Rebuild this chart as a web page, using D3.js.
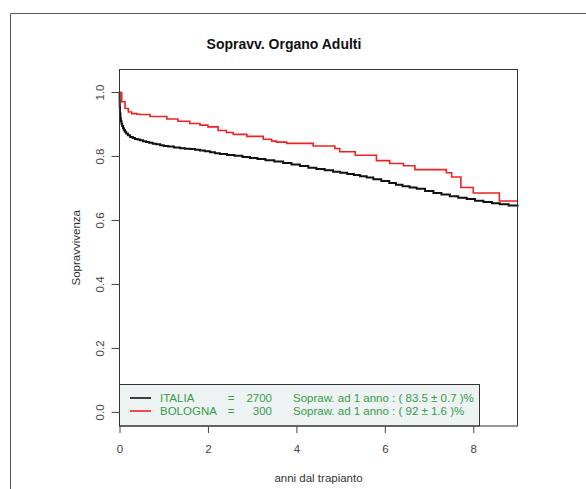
<!DOCTYPE html>
<html>
<head>
<meta charset="utf-8">
<script src="https://cdn.jsdelivr.net/npm/d3@7"></script>
<style>
  html, body { margin: 0; padding: 0; background: #fff; }
  svg { display: block; font-family: "Liberation Sans", Arial, sans-serif; }
</style>
</head>
<body>
<svg id="chart" width="586" height="489"></svg>
<script>
// Kaplan-Meier survival estimates: [years since transplant, survival]
const italia = [
  [0, 1.0], [0.003, 0.975], [0.006, 0.955], [0.01, 0.935], [0.02, 0.92],
  [0.03, 0.91], [0.045, 0.902], [0.06, 0.895], [0.08, 0.888], [0.1, 0.882],
  [0.125, 0.877], [0.15, 0.872], [0.19, 0.866], [0.24, 0.861], [0.3, 0.858],
  [0.35, 0.855], [0.41, 0.853], [0.46, 0.851], [0.53, 0.848], [0.6, 0.845],
  [0.67, 0.843], [0.75, 0.840], [0.83, 0.838], [0.92, 0.835], [1.0, 0.833],
  [1.1, 0.831], [1.23, 0.828], [1.37, 0.826], [1.48, 0.824], [1.6, 0.823],
  [1.71, 0.821], [1.82, 0.819], [1.93, 0.816], [2.05, 0.813], [2.16, 0.810],
  [2.27, 0.808], [2.43, 0.805], [2.6, 0.802], [2.78, 0.798], [2.95, 0.795],
  [3.12, 0.792], [3.3, 0.788], [3.5, 0.784], [3.7, 0.780], [3.89, 0.775],
  [4.08, 0.770], [4.27, 0.765], [4.45, 0.761], [4.64, 0.757], [4.83, 0.752],
  [4.99, 0.749], [5.15, 0.745], [5.3, 0.742], [5.44, 0.738], [5.59, 0.734],
  [5.74, 0.729], [5.92, 0.723], [6.1, 0.717], [6.25, 0.712], [6.4, 0.707],
  [6.56, 0.703], [6.72, 0.699], [6.91, 0.692], [7.1, 0.686], [7.28, 0.681],
  [7.47, 0.676], [7.66, 0.671], [7.85, 0.667], [8.04, 0.662], [8.23, 0.658],
  [8.42, 0.654], [8.6, 0.651], [8.8, 0.647], [9.0, 0.644]
];
const bologna = [
  [0, 1.0], [0.05, 0.971], [0.124, 0.950], [0.2, 0.939], [0.276, 0.934],
  [0.39, 0.932], [0.46, 0.931], [0.69, 0.925], [1.07, 0.917], [1.32, 0.910],
  [1.59, 0.903], [1.82, 0.898], [2.0, 0.8925], [2.23, 0.881], [2.42, 0.875],
  [2.57, 0.869], [2.88, 0.863], [3.25, 0.854], [3.44, 0.848], [3.55, 0.845],
  [3.78, 0.841], [4.38, 0.833], [4.87, 0.825], [4.98, 0.815], [5.33, 0.804],
  [5.81, 0.787], [6.11, 0.778], [6.42, 0.771], [6.68, 0.759], [7.39, 0.749],
  [7.51, 0.736], [7.72, 0.703], [8.0, 0.686], [8.59, 0.661], [9.0, 0.661]
];
const xTicks = [0, 2, 4, 6, 8];
const yTicks = [0, 0.2, 0.4, 0.6, 0.8, 1.0];
const legendRows = [
  { name: "ITALIA", n: "2700", text: "Sopraw. ad 1 anno : ( 83.5 \u00b1 0.7 )%", color: "#111111" },
  { name: "BOLOGNA", n: "300", text: "Sopraw. ad 1 anno : ( 92 \u00b1 1.6 )%", color: "#ee2222" }
];

const svg = d3.select("#chart");
const boxL = 119.5, boxR = 517.5, boxT = 69.5, boxB = 426;

const x = d3.scaleLinear().domain([0, 9]).range([boxL, boxR]);
const y = d3.scaleLinear().domain([-0.0425, 1.0719]).range([boxB, boxT]);

// outer frame
svg.append("path")
  .attr("d", "M10.5,489 V13.5 H586")
  .attr("fill", "none").attr("stroke", "#555").attr("stroke-width", 1);

// title
svg.append("text")
  .attr("x", 284).attr("y", 48.5)
  .attr("text-anchor", "middle")
  .attr("font-size", "14px").attr("font-weight", "bold").attr("fill", "#111")
  .text("Sopravv. Organo Adulti");

// survival curves
const line = d3.line()
  .x(d => x(d[0])).y(d => y(d[1]))
  .curve(d3.curveStepAfter);

const plot = svg.append("g");
plot.append("path").datum(italia)
  .attr("d", line).attr("fill", "none")
  .attr("stroke", "#111").attr("stroke-width", 2);
plot.append("path").datum(bologna)
  .attr("d", line).attr("fill", "none")
  .attr("stroke", "#ee2222").attr("stroke-width", 1.6);

// legend
const lg = svg.append("g");
lg.append("rect")
  .attr("x", boxL).attr("y", 384.5)
  .attr("width", 479.5 - boxL).attr("height", boxB - 384.5)
  .attr("fill", "#edf2f2").attr("stroke", "#333").attr("stroke-width", 1);
legendRows.forEach((r, i) => {
  const cy = 398 + i * 13;
  lg.append("line")
    .attr("x1", 130).attr("x2", 151).attr("y1", cy).attr("y2", cy)
    .attr("stroke", r.color).attr("stroke-width", 1.6);
  const g = lg.append("g")
    .attr("font-size", "11.5px").attr("fill", "#3a9a4a");
  g.append("text").attr("x", 160).attr("y", cy + 4).text(r.name);
  g.append("text").attr("x", 231).attr("y", cy + 4).attr("text-anchor", "middle").text("=");
  g.append("text").attr("x", 272).attr("y", cy + 4).attr("text-anchor", "end").text(r.n);
  g.append("text").attr("x", 293).attr("y", cy + 4).text(r.text);
});

// plot box
svg.append("rect")
  .attr("x", boxL).attr("y", boxT)
  .attr("width", boxR - boxL).attr("height", boxB - boxT)
  .attr("fill", "none").attr("stroke", "#333").attr("stroke-width", 1);

// x axis
const xAxis = svg.append("g")
  .attr("transform", `translate(0,${boxB})`)
  .call(d3.axisBottom(x).tickValues(xTicks).tickSizeOuter(0).tickSize(7).tickPadding(12)
    .tickFormat(d3.format("d")));
xAxis.select(".domain").remove();
xAxis.selectAll("line").attr("stroke", "#444");
xAxis.selectAll("text")
  .attr("font-size", "11.5px").attr("fill", "#444")
  .attr("font-family", "\"Liberation Sans\", Arial, sans-serif");

// y axis
const yAxis = svg.append("g");
yAxis.selectAll("line").data(yTicks).join("line")
  .attr("x1", boxL - 8).attr("x2", boxL)
  .attr("y1", d => y(d)).attr("y2", d => y(d))
  .attr("stroke", "#444");
yAxis.selectAll("text").data(yTicks).join("text")
  .attr("transform", d => `translate(104,${y(d)}) rotate(-90)`)
  .attr("text-anchor", "middle")
  .attr("font-size", "11.5px").attr("fill", "#444")
  .text(d3.format(".1f"));

// axis titles
svg.append("text")
  .attr("x", (boxL + boxR) / 2).attr("y", 482)
  .attr("text-anchor", "middle").attr("font-size", "11.5px").attr("fill", "#333")
  .text("anni dal trapianto");
svg.append("text")
  .attr("transform", `translate(80,${(boxT + boxB) / 2}) rotate(-90)`)
  .attr("text-anchor", "middle").attr("font-size", "11.5px").attr("fill", "#333")
  .text("Sopravvivenza");
</script>
</body>
</html>
